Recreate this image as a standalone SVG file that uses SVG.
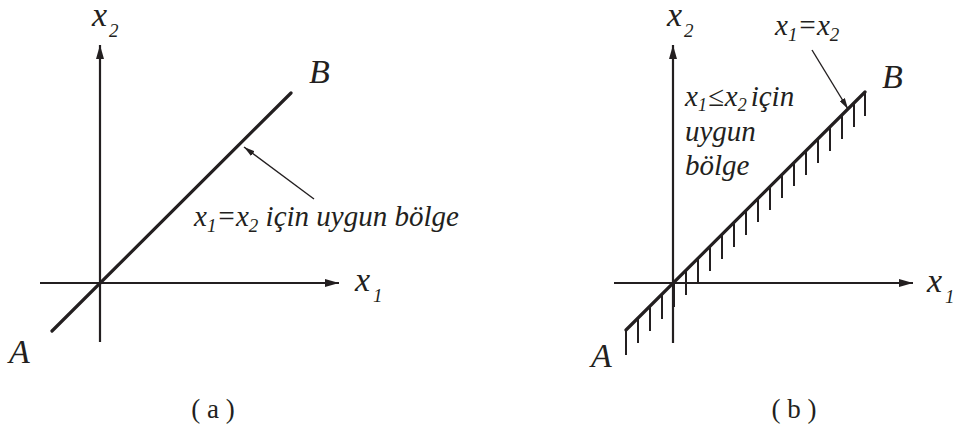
<svg xmlns="http://www.w3.org/2000/svg" width="956" height="441" viewBox="0 0 956 441">
<style>
.ax{stroke:#231f20;stroke-width:2.2;fill:none}
.dg{stroke:#231f20;stroke-width:3.2;fill:none;stroke-linecap:round}
.ht{stroke:#231f20;stroke-width:2;fill:none}
.co{stroke:#231f20;stroke-width:1.4;fill:none}
.lb{font-family:'Liberation Serif',serif;font-size:34px;font-style:italic;fill:#231f20}
.tx{font-family:'Liberation Serif',serif;font-size:29px;font-style:italic;fill:#231f20}
.cap{font-family:'Liberation Serif',serif;font-size:27px;fill:#231f20}
.sub{font-size:19px}
.sb{font-size:18px}
</style>
<defs>
<marker id="ah" viewBox="0 0 14 8" refX="14" refY="4" markerWidth="14" markerHeight="8" markerUnits="userSpaceOnUse" orient="auto">
<path d="M0,0 L14,4 L0,8 Z" fill="#231f20"/>
</marker>
<marker id="ahs" viewBox="0 0 11 6" refX="11" refY="3" markerWidth="11" markerHeight="6" markerUnits="userSpaceOnUse" orient="auto">
<path d="M0,0 L11,3 L0,6 Z" fill="#231f20"/>
</marker>
</defs>

<g id="connectors">
<line class="ax" x1="40" y1="283" x2="339" y2="283" marker-end="url(#ah)"/>
<line class="ax" x1="100" y1="342" x2="100" y2="45" marker-end="url(#ah)"/>
<line class="co" x1="314" y1="199" x2="244" y2="147" marker-end="url(#ahs)"/>
<line class="ax" x1="614" y1="283" x2="913" y2="283" marker-end="url(#ah)"/>
<line class="ax" x1="673" y1="343" x2="673" y2="45" marker-end="url(#ah)"/>
<line class="co" x1="812" y1="50" x2="848" y2="109" marker-end="url(#ahs)"/>
</g>

<g id="lineA">
<line class="dg" x1="52" y1="331" x2="291" y2="93"/>
</g>

<g id="lineB">
<path class="ht" d="M626,330 v25 M638,318 v25 M650,306 v25 M662,294 v25 M674,282 v25 M686,270 v25 M698,258 v25 M710,246 v25 M722,234 v25 M734,222 v25 M746,210 v25 M758,198 v24 M770,186 v24 M782,174 v24 M794,162 v24 M806,151 v24 M818,139 v24 M830,127 v24 M842,115 v24 M854,103 v24 M865,92 v24"/>
<line class="dg" x1="626" y1="330" x2="865" y2="92" stroke-linecap="butt"/>
</g>

<g id="labels-a">
<text class="lb" font-family="Liberation Serif" x="92" y="26">x<tspan class="sub" dx="2" dy="11">2</tspan></text>
<text class="lb" font-family="Liberation Serif" x="355" y="291">x<tspan class="sub" dx="3" dy="11">1</tspan></text>
<text class="lb" font-family="Liberation Serif" x="309" y="83">B</text>
<text class="lb" font-family="Liberation Serif" x="9" y="363">A</text>
<text class="tx" font-family="Liberation Serif" x="194" y="226">x<tspan class="sub" dy="6">1</tspan><tspan dy="-6">=x</tspan><tspan class="sub" dy="6">2</tspan><tspan dy="-6"> için uygun bölge</tspan></text>
<text class="cap" font-family="Liberation Serif" x="213" y="418" text-anchor="middle">( a )</text>
</g>

<g id="labels-b">
<text class="lb" font-family="Liberation Serif" x="667" y="26">x<tspan class="sub" dx="2" dy="11">2</tspan></text>
<text class="lb" font-family="Liberation Serif" x="927" y="292">x<tspan class="sub" dx="3" dy="11">1</tspan></text>
<text class="lb" font-family="Liberation Serif" x="882" y="88">B</text>
<text class="lb" font-family="Liberation Serif" x="591" y="367">A</text>
<text class="tx" font-family="Liberation Serif" x="775" y="35">x<tspan class="sub" dy="6">1</tspan><tspan dy="-6">=x</tspan><tspan class="sub" dy="6">2</tspan></text>
<text class="tx" font-family="Liberation Serif" x="685" y="106">x<tspan class="sb" dy="5">1</tspan><tspan dx="1" dy="-5">≤</tspan><tspan dx="1">x</tspan><tspan class="sb" dy="5">2</tspan><tspan dx="4" dy="-5">için</tspan></text>
<text class="tx" font-family="Liberation Serif" x="685" y="141">uygun</text>
<text class="tx" font-family="Liberation Serif" x="685" y="175">bölge</text>
<text class="cap" font-family="Liberation Serif" x="794" y="418" text-anchor="middle">( b )</text>
</g>
</svg>
